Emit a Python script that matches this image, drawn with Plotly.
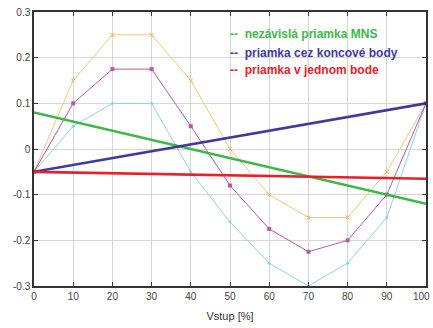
import plotly.graph_objects as go

x_vals = [0, 10, 20, 30, 40, 50, 60, 70, 80, 90, 100]
orange_vals = [-0.05, 0.15, 0.25, 0.25, 0.15, 0.0, -0.1, -0.15, -0.15, -0.05, 0.1]
magenta_vals = [-0.05, 0.1, 0.175, 0.175, 0.05, -0.08, -0.175, -0.225, -0.2, -0.1, 0.1]
cyan_vals = [-0.05, 0.05, 0.1, 0.1, -0.05, -0.16, -0.25, -0.3, -0.25, -0.15, 0.1]

line_x = [0, 100]
mns_vals = [0.08, -0.12]
end_vals = [-0.05, 0.1]
one_vals = [-0.05, -0.065]

legend_labels = ["--  nezávislá priamka MNS", "--  priamka cez koncové body", "--  priamka v jednom bode"]
legend_colors = ["#3cb84a", "#3f3a9e", "#e8202a"]

x_ticks = [0, 10, 20, 30, 40, 50, 60, 70, 80, 90, 100]
y_ticks = [-0.3, -0.2, -0.1, 0, 0.1, 0.2, 0.3]
y_ticktext = ["-0.3", "-0.2", "-0.1", "0", "0.1", "0.2", "0.3"]

tick_font = dict(family="Liberation Sans, Arial", size=10, color="#444444")

fig = go.Figure()
fig.add_trace(go.Scatter(x=x_vals, y=cyan_vals, mode="lines+markers",
                         line=dict(color="#8fd3e3", width=1),
                         marker=dict(size=3, color="#8fd3e3")))
fig.add_trace(go.Scatter(x=x_vals, y=orange_vals, mode="lines+markers",
                         line=dict(color="#f7c57a", width=1),
                         marker=dict(size=4, color="#f7c57a", symbol="x-thin", line=dict(width=1, color="#f0b050"))))
fig.add_trace(go.Scatter(x=x_vals, y=magenta_vals, mode="lines+markers",
                         line=dict(color="#b558ad", width=1),
                         marker=dict(size=4, color="#b558ad", symbol="square")))
fig.add_trace(go.Scatter(x=line_x, y=mns_vals, mode="lines",
                         line=dict(color=legend_colors[0], width=2.6)))
fig.add_trace(go.Scatter(x=line_x, y=end_vals, mode="lines",
                         line=dict(color=legend_colors[1], width=2.6)))
fig.add_trace(go.Scatter(x=line_x, y=one_vals, mode="lines",
                         line=dict(color=legend_colors[2], width=2.6)))

# white legend box
fig.add_shape(type="rect", xref="x", yref="y", x0=43, x1=100, y0=0.114, y1=0.3,
              fillcolor="white", line=dict(width=0), layer="below")

legend_y = [0.252, 0.211, 0.173]
for lab, col, ly in zip(legend_labels, legend_colors, legend_y):
    fig.add_annotation(x=49.6, y=ly, xref="x", yref="y",
                       text="<b>" + lab + "</b>", showarrow=False, xanchor="left",
                       font=dict(family="Liberation Sans, Arial", size=12, color=col))

# last x tick label, kept inside the page edge
fig.add_annotation(x=x_ticks[-1], y=0, xref="x", yref="paper", text=str(x_ticks[-1]),
                   showarrow=False, xanchor="right", yanchor="top", yshift=-3, xshift=6,
                   font=tick_font)

axis_common = dict(showline=True, linecolor="#333333", linewidth=1.5, mirror="ticks",
                   ticks="inside", ticklen=4, tickcolor="#333333", tickwidth=1,
                   showgrid=True, gridcolor="#d6d6d6", gridwidth=1, zeroline=False,
                   automargin=False, tickfont=tick_font)

fig.update_layout(
    width=433, height=328,
    margin=dict(l=34, r=7, t=12, b=42),
    paper_bgcolor="white", plot_bgcolor="white",
    showlegend=False,
    xaxis=dict(range=[0, 100], tickvals=x_ticks,
               title=dict(text="Vstup [%]", font=dict(family="Liberation Sans, Arial", size=11, color="#333333"), standoff=12),
               **axis_common),
    yaxis=dict(range=[-0.3, 0.3], tickvals=y_ticks, ticktext=y_ticktext, **axis_common),
)

fig.write_html("out.html")
